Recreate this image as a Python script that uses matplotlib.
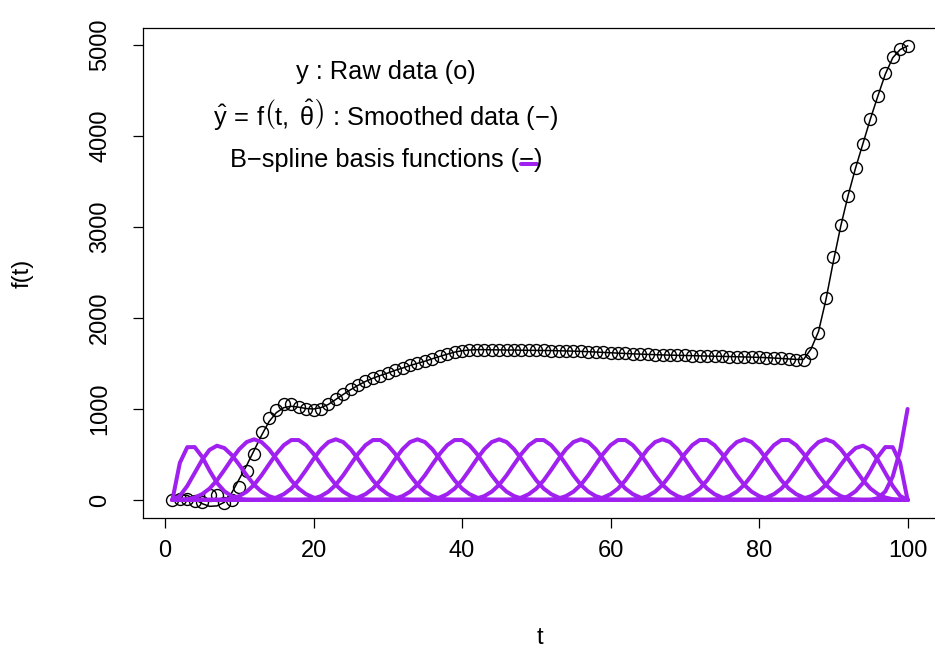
import numpy as np
import matplotlib.pyplot as plt
from matplotlib.lines import Line2D

plt.rcParams['font.family'] = ['Liberation Sans', 'DejaVu Sans']
plt.rcParams['mathtext.fontset'] = 'custom'
plt.rcParams['mathtext.rm'] = 'Liberation Sans'
plt.rcParams['mathtext.it'] = 'Liberation Sans'

# time points
t = np.arange(1, 101)

y_raw = [5, 15, 10, -15, -25, 50, 50, -30, 0, 140,
         320, 505, 745, 900, 990, 1050, 1055, 1025, 995, 985,
         1005, 1055, 1110, 1165, 1215, 1262, 1305, 1338, 1368, 1395,
         1425, 1450, 1478, 1502, 1525, 1552, 1578, 1602, 1625, 1640,
         1648, 1652, 1652, 1650, 1650, 1648, 1648, 1646, 1645, 1644,
         1643, 1642, 1640, 1638, 1636, 1633, 1630, 1626, 1622, 1618,
         1614, 1610, 1606, 1603, 1600, 1597, 1594, 1592, 1590, 1588,
         1586, 1584, 1582, 1580, 1578, 1576, 1574, 1572, 1570, 1567,
         1564, 1560, 1555, 1550, 1542, 1535, 1610, 1832, 2216, 2667,
         3022, 3341, 3645, 3912, 4190, 4440, 4689, 4864, 4952, 4990]

# smoothed fit
y_fit = [10, 55, 50, 10, -40, -70, -65, -25, 80, 230,
         380, 545, 710, 860, 960, 1015, 1030, 1020, 1005, 1000,
         1015, 1050, 1105, 1160, 1212, 1260, 1303, 1338, 1368, 1395,
         1425, 1450, 1478, 1502, 1525, 1552, 1578, 1602, 1625, 1640,
         1648, 1652, 1652, 1650, 1650, 1648, 1648, 1646, 1645, 1644,
         1643, 1642, 1640, 1638, 1636, 1633, 1630, 1626, 1622, 1618,
         1614, 1610, 1606, 1603, 1600, 1597, 1594, 1592, 1590, 1588,
         1586, 1584, 1582, 1580, 1578, 1576, 1574, 1572, 1570, 1567,
         1564, 1560, 1555, 1550, 1545, 1545, 1660, 1850, 2200, 2620,
         3010, 3350, 3650, 3920, 4190, 4440, 4680, 4860, 4950, 4990]

# cubic B-spline knots (boundary + interior), basis scaled by 1000 for display
boundary_knots = [1, 100]
interior_knots = [6.5, 12, 17.5, 23, 28.5, 34, 39.5, 45, 50.5, 56, 61.5,
                  67, 72.5, 78, 83.5, 89, 94.5]
degree = 3
basis_scale = 1000


def bspline_basis(x, knots, deg):
    x = np.asarray(x, dtype=float)
    k = np.asarray(knots, dtype=float)
    B = np.zeros((len(x), len(k) - 1))
    for i in range(len(k) - 1):
        B[:, i] = (k[i] <= x) & (x < k[i + 1])
    last = max(i for i in range(len(k) - 1) if k[i] < k[i + 1])
    B[x == k[-1], last] = 1
    for d in range(1, deg + 1):
        Bn = np.zeros((len(x), len(k) - 1 - d))
        for i in range(len(k) - 1 - d):
            if k[i + d] != k[i]:
                Bn[:, i] += (x - k[i]) / (k[i + d] - k[i]) * B[:, i]
            if k[i + d + 1] != k[i + 1]:
                Bn[:, i] += (k[i + d + 1] - x) / (k[i + d + 1] - k[i + 1]) * B[:, i + 1]
        B = Bn
    return B


knots = [boundary_knots[0]] * (degree + 1) + interior_knots + [boundary_knots[1]] * (degree + 1)
basis = bspline_basis(t, knots, degree)[:, 1:]  # no intercept column

fig = plt.figure(figsize=(9.35, 6.48), dpi=100)
# right edge of the box falls just outside the picture, as in the original
ax = fig.add_axes([143 / 935, 1 - 518 / 648, (937 - 143) / 935, (518 - 28) / 648])

ax.plot(t, y_raw, 'o', mfc='none', mec='black', ms=8.6, mew=1.0)
ax.plot(t, y_fit, color='black', lw=1.1)
for j in range(basis.shape[1]):
    ax.plot(t, basis[:, j] * basis_scale, color='#A020F0', lw=2.9,
            solid_joinstyle='round', solid_capstyle='round')

ax.set_xlim(-2.96, 103.96)
ax.set_ylim(-198, 5187)
ax.set_xticks([0, 20, 40, 60, 80, 100])
ax.set_yticks([0, 1000, 2000, 3000, 4000, 5000])
ax.tick_params(direction='out', length=7, width=0.9, labelsize=17)
ax.tick_params(axis='x', pad=9)
ax.tick_params(axis='y', pad=16)
plt.setp(ax.get_yticklabels(), rotation=90, va='center')
for s in ax.spines.values():
    s.set_linewidth(0.9)

ax.set_xlabel('t', fontsize=17, labelpad=47)
ax.set_ylabel('f(t)', fontsize=17, labelpad=40)

fs = 18.3
cx = 386 / 935
fig.text(cx, 1 - 72 / 648, 'y : Raw data (o)', ha='center', va='center', fontsize=fs)
fig.text(cx, 1 - 115 / 648,
         r'$\hat{\mathrm{y}}\,=\,\mathrm{f}\left(\mathrm{t},\ \hat{\theta}\right)$ : Smoothed data (' + '\u2212)',
         ha='center', va='center', fontsize=fs)
fig.text(cx, 1 - 160 / 648, 'B\u2212spline basis functions (\u2212)', ha='center', va='center', fontsize=fs)
fig.add_artist(Line2D([521 / 935, 537 / 935], [1 - 164 / 648, 1 - 164 / 648],
                      color='#A020F0', lw=2.9, solid_capstyle='round'))

fig.savefig('out.png', dpi=100)
